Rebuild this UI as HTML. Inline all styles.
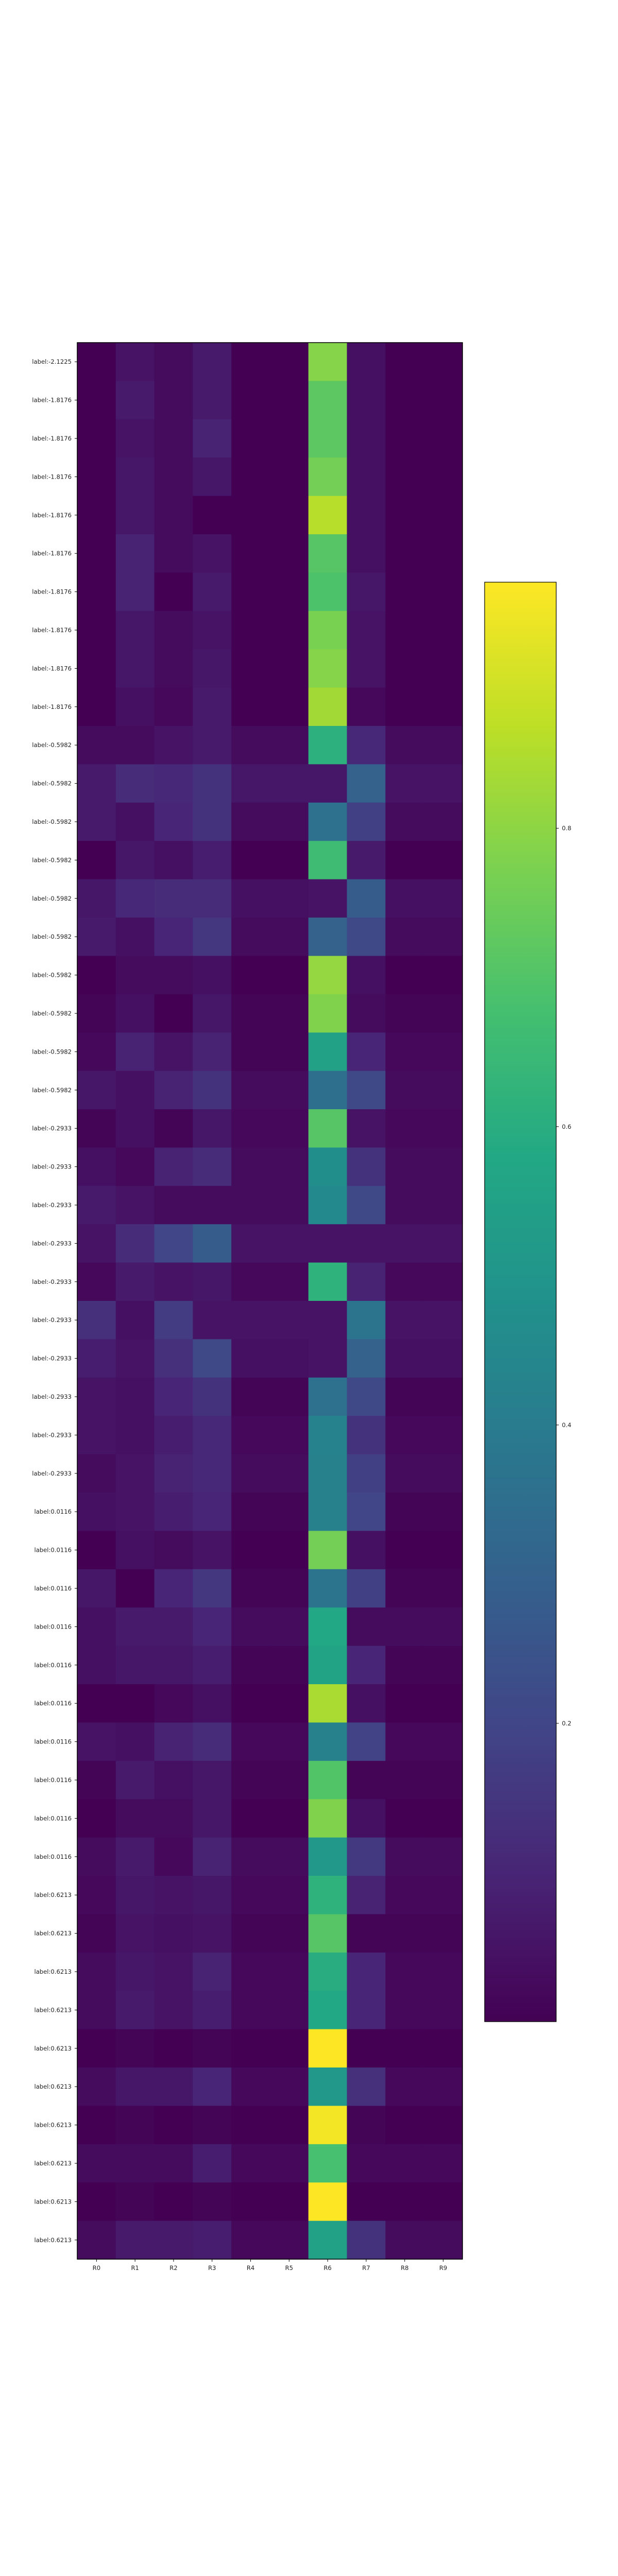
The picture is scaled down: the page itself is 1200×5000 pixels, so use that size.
<!DOCTYPE html>
<html>
<head>
<meta charset="utf-8">
<style>
html,body{margin:0;padding:0;background:#fff;}
svg{display:block;}
text{font-family:"DejaVu Sans","Liberation Sans",sans-serif;fill:#222;}
</style>
</head>
<body>
<svg id="chart" width="1200" height="5000" viewBox="0 0 1200 5000" xmlns="http://www.w3.org/2000/svg">
  <defs>
    <linearGradient id="vir" x1="0" y1="1" x2="0" y2="0">
      <stop offset="0" stop-color="#440154"/>
      <stop offset="0.1" stop-color="#482475"/>
      <stop offset="0.2" stop-color="#414487"/>
      <stop offset="0.3" stop-color="#355f8d"/>
      <stop offset="0.4" stop-color="#2a788e"/>
      <stop offset="0.5" stop-color="#21918c"/>
      <stop offset="0.6" stop-color="#22a884"/>
      <stop offset="0.7" stop-color="#44bf70"/>
      <stop offset="0.8" stop-color="#7ad151"/>
      <stop offset="0.9" stop-color="#bddf26"/>
      <stop offset="1" stop-color="#fde725"/>
    </linearGradient>
  </defs>
  <g id="cells"></g>
  <rect x="150" y="665" width="748" height="3720" fill="none" stroke="#000" stroke-width="1.5"/>
  <g id="yaxis"></g>
  <g id="xaxis"></g>
  <rect x="941" y="1130" width="139" height="2794" fill="url(#vir)" stroke="#000" stroke-width="1.2"/>
  <g id="cbaxis"></g>
</svg>
<script>
const columns = ["R0","R1","R2","R3","R4","R5","R6","R7","R8","R9"];
const rowLabels = [
"label:-2.1225",
"label:-1.8176","label:-1.8176","label:-1.8176","label:-1.8176","label:-1.8176","label:-1.8176","label:-1.8176","label:-1.8176","label:-1.8176",
"label:-0.5982","label:-0.5982","label:-0.5982","label:-0.5982","label:-0.5982","label:-0.5982","label:-0.5982","label:-0.5982","label:-0.5982","label:-0.5982",
"label:-0.2933","label:-0.2933","label:-0.2933","label:-0.2933","label:-0.2933","label:-0.2933","label:-0.2933","label:-0.2933","label:-0.2933","label:-0.2933",
"label:0.0116","label:0.0116","label:0.0116","label:0.0116","label:0.0116","label:0.0116","label:0.0116","label:0.0116","label:0.0116","label:0.0116",
"label:0.6213","label:0.6213","label:0.6213","label:0.6213","label:0.6213","label:0.6213","label:0.6213","label:0.6213","label:0.6213","label:0.6213"];
const values = [
[0,0.05,0.03,0.07,0,0,0.79,0.04,0,0],
[0,0.07,0.03,0.07,0,0,0.72,0.04,0,0],
[0,0.05,0.03,0.09,0,0,0.72,0.04,0,0],
[0,0.06,0.03,0.06,0,0,0.76,0.04,0,0],
[0,0.06,0.03,0,0,0,0.86,0.04,0,0],
[0,0.09,0.03,0.05,0,0,0.71,0.04,0,0],
[0,0.09,0,0.07,0,0,0.69,0.06,0,0],
[0,0.06,0.03,0.05,0,0,0.77,0.05,0,0],
[0,0.06,0.03,0.06,0,0,0.79,0.05,0,0],
[0,0.04,0.02,0.07,0,0,0.83,0.02,0,0],
[0.03,0.03,0.05,0.07,0.03,0.03,0.61,0.11,0.03,0.03],
[0.07,0.12,0.11,0.14,0.06,0.06,0.06,0.30,0.05,0.05],
[0.07,0.04,0.10,0.14,0.03,0.03,0.36,0.18,0.03,0.03],
[0,0.06,0.04,0.08,0,0,0.66,0.07,0,0],
[0.06,0.11,0.12,0.12,0.04,0.04,0.05,0.28,0.04,0.04],
[0.07,0.04,0.10,0.15,0.03,0.03,0.30,0.21,0.03,0.03],
[0,0.03,0.03,0.04,0,0,0.81,0.04,0,0],
[0.01,0.04,0,0.06,0.01,0.01,0.78,0.03,0.01,0.01],
[0.02,0.09,0.05,0.09,0.01,0.01,0.55,0.10,0.02,0.02],
[0.06,0.04,0.09,0.14,0.03,0.03,0.35,0.21,0.03,0.03],
[0.01,0.04,0.01,0.06,0.02,0.02,0.71,0.05,0.02,0.02],
[0.04,0.02,0.09,0.12,0.03,0.03,0.47,0.14,0.03,0.03],
[0.07,0.05,0.03,0.03,0.03,0.03,0.45,0.21,0.03,0.03],
[0.05,0.12,0.20,0.28,0.05,0.05,0.05,0.05,0.05,0.05],
[0.02,0.07,0.05,0.06,0.02,0.02,0.62,0.09,0.02,0.02],
[0.13,0.04,0.17,0.05,0.05,0.05,0.05,0.37,0.05,0.05],
[0.08,0.05,0.13,0.21,0.04,0.04,0.05,0.30,0.04,0.04],
[0.05,0.04,0.10,0.14,0.01,0.01,0.36,0.21,0.01,0.01],
[0.05,0.04,0.08,0.11,0.02,0.02,0.43,0.14,0.02,0.02],
[0.03,0.05,0.09,0.11,0.03,0.03,0.42,0.18,0.03,0.03],
[0.04,0.05,0.08,0.10,0.01,0.01,0.42,0.20,0.01,0.01],
[0,0.04,0.03,0.05,0,0,0.76,0.04,0,0],
[0.06,0,0.10,0.15,0.01,0.01,0.37,0.18,0.01,0.01],
[0.04,0.07,0.07,0.10,0.03,0.03,0.58,0.03,0.03,0.03],
[0.04,0.06,0.06,0.08,0.01,0.01,0.56,0.10,0.01,0.01],
[0,0,0.02,0.04,0,0,0.84,0.04,0,0],
[0.05,0.04,0.09,0.12,0.02,0.02,0.42,0.19,0.02,0.02],
[0.01,0.07,0.04,0.06,0.01,0.01,0.70,0.01,0.01,0.01],
[0,0.03,0.03,0.06,0,0,0.78,0.04,0,0],
[0.03,0.07,0.02,0.09,0.03,0.03,0.51,0.16,0.03,0.03],
[0.02,0.06,0.05,0.06,0.02,0.02,0.62,0.09,0.02,0.02],
[0.01,0.05,0.04,0.05,0.01,0.01,0.71,0.01,0.01,0.01],
[0.03,0.06,0.05,0.09,0.02,0.02,0.60,0.10,0.02,0.02],
[0.03,0.07,0.05,0.08,0.02,0.02,0.58,0.10,0.02,0.02],
[0,0.01,0,0.01,0,0,0.965,0,0,0],
[0.03,0.06,0.06,0.10,0.02,0.02,0.51,0.13,0.02,0.02],
[0,0.01,0,0.01,0,0,0.95,0.01,0,0],
[0.03,0.03,0.03,0.08,0.02,0.02,0.68,0.02,0.02,0.02],
[0,0.01,0,0.01,0,0,0.965,0,0,0],
[0.03,0.07,0.07,0.08,0.02,0.02,0.55,0.14,0.03,0.03]];
const cbTicks = [0.2,0.4,0.6,0.8];
const vmin = 0, vmax = 0.965;

const NS = "http://www.w3.org/2000/svg";
const X0 = 150, X1 = 898, Y0 = 665, Y1 = 4385;
const CB_TOP = 1130, CB_BOT = 3924;
const cw = (X1 - X0) / columns.length, rh = (Y1 - Y0) / rowLabels.length;
const xPos = i => X0 + i * cw;
const yPos = j => Y0 + j * rh;
const cbY = v => CB_BOT - (v - vmin) / (vmax - vmin) * (CB_BOT - CB_TOP);

const stops = ["#440154","#482475","#414487","#355f8d","#2a788e","#21918c","#22a884","#44bf70","#7ad151","#bddf26","#fde725"];
function hex(h){return [1,3,5].map(k=>parseInt(h.substr(k,2),16));}
function viridis(v){
  let t = Math.max(0, Math.min(1, (v - vmin) / (vmax - vmin)));
  const p = t * (stops.length - 1), i = Math.min(Math.floor(p), stops.length - 2), f = p - i;
  const a = hex(stops[i]), b = hex(stops[i+1]);
  return "rgb(" + a.map((c,k)=>Math.round(c + (b[k]-c)*f)).join(",") + ")";
}
function mk(tag, attrs, parent){
  const e = document.createElementNS(NS, tag);
  for (const k in attrs) e.setAttribute(k, attrs[k]);
  parent.appendChild(e);
  return e;
}
const cells = document.getElementById("cells");
values.forEach((row, j) => {
  row.forEach((v, i) => {
    const r = mk("rect", {x: xPos(i), y: yPos(j), width: cw + 0.6, height: rh + 0.6, fill: viridis(v)}, cells);
    
    
  });
});
const yaxis = document.getElementById("yaxis");
rowLabels.forEach((lab, j) => {
  const y = yPos(j) + rh / 2;
  const t = mk("line", {x1: 145, x2: 150, y1: y, y2: y, stroke: "#000", "stroke-width": 1}, yaxis);
  
  
  const tx = mk("text", {x: 139, y: y + 4, "text-anchor": "end", "font-size": "11.6"}, yaxis);
  tx.textContent = lab;
  
  
});
const xaxis = document.getElementById("xaxis");
columns.forEach((c, i) => {
  const x = xPos(i) + cw / 2;
  const t = mk("line", {x1: x, x2: x, y1: Y1, y2: Y1 + 5, stroke: "#000", "stroke-width": 1}, xaxis);
  
  
  const tx = mk("text", {x: x, y: Y1 + 21, "text-anchor": "middle", "font-size": "11.6"}, xaxis);
  tx.textContent = c;
  
  
});
const cbaxis = document.getElementById("cbaxis");
cbTicks.forEach(v => {
  const y = cbY(v);
  const t = mk("line", {x1: 1080, x2: 1085, y1: y, y2: y, stroke: "#000", "stroke-width": 1}, cbaxis);
  
  
  const tx = mk("text", {x: 1091, y: y + 4, "font-size": "11.6"}, cbaxis);
  tx.textContent = v.toFixed(1);
  
  
});
</script>
</body>
</html>
